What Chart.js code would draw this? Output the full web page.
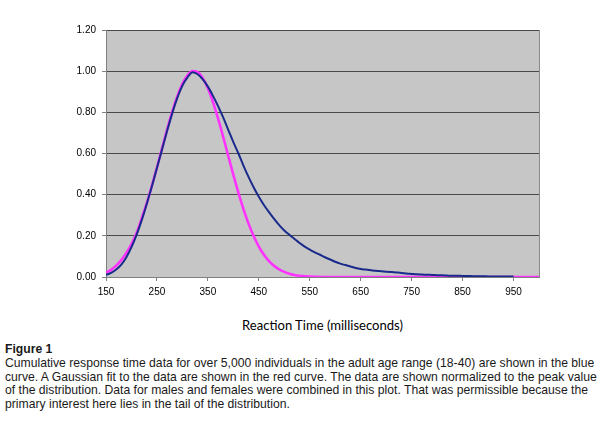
<!DOCTYPE html>
<html>
<head>
<meta charset="utf-8">
<script src="https://cdn.jsdelivr.net/npm/chart.js@4.4.1/dist/chart.umd.min.js"></script>
<style>
  html, body { margin:0; padding:0; background:#fff; }
  #wrap { position:relative; width:604px; height:425px; overflow:hidden; }
  #c { position:absolute; left:0; top:0; }
  #xtitle { position:absolute; left:106px; width:433px; top:318px; text-align:center;
            font-family:Lato, "Open Sans", sans-serif; font-size:11px; line-height:14px; color:#000; white-space:nowrap; }
  #caption { position:absolute; left:5px; top:342.7px; font-family:"Liberation Sans Narrow", "Liberation Sans", Arial, sans-serif;
             font-size:11px; line-height:13.9px; color:#1a1a1a; white-space:nowrap; }
  #caption b { font-weight:bold; }
</style>
</head>
<body>
<div id="wrap">
  <canvas id="c" width="604" height="300"></canvas>
  <div id="xtitle">Reaction Time (milliseconds)</div>
  <div id="caption"><b>Figure 1</b><br><span id="l1">Cumulative response time data for over 5,000 individuals in the adult age range (18-40) are shown in the blue</span><br>curve. A Gaussian fit to the data are shown in the red curve. The data are shown normalized to the peak value<br>of the distribution. Data for males and females were combined in this plot. That was permissible because the<br>primary interest here lies in the tail of the distribution.</div>
</div>
<script>
// ---- data ----
const dataTimes = [150,160,170,180,190,200,210,220,230,240,250,260,270,280,290,300,310,320,330,340,
  350,360,370,380,390,400,410,420,430,440,450,460,470,480,490,500,510,520,530,540,
  550,560,570,580,590,600,610,620,630,640,650,660,670,680,690,700,710,720,730,740,
  750,760,770,780,790,800,810,820,830,840,850,860,870,880,890,900,910,920,930,940,950];
const dataValues = [0.010,0.020,0.036,0.060,0.096,0.145,0.205,0.275,0.355,0.440,0.530,0.620,0.710,0.795,0.870,0.930,0.970,0.995,0.985,0.960,
  0.925,0.880,0.830,0.775,0.715,0.655,0.600,0.540,0.485,0.435,0.390,0.350,0.315,0.282,0.252,0.226,0.205,0.185,0.165,0.148,
  0.133,0.120,0.108,0.096,0.085,0.074,0.065,0.058,0.051,0.044,0.039,0.036,0.033,0.030,0.028,0.026,0.024,0.022,0.020,0.017,
  0.015,0.013,0.012,0.011,0.010,0.009,0.008,0.007,0.006,0.006,0.005,0.005,0.004,0.004,0.004,0.003,0.003,0.003,0.003,0.002,0.002];
const fitTimes = [150,160,170,180,190,200,210,220,230,240,250,260,270,280,290,300,310,320,330,340,
  350,360,370,380,390,400,410,420,430,440,450,460,470,480,490,500,510,520,530,540,550,560,600,700,800,900,1000];
const fitValues = [0.022,0.035,0.055,0.082,0.117,0.160,0.214,0.285,0.359,0.443,0.532,0.625,0.717,0.803,0.879,0.939,0.980,1.000,0.995,0.966,
  0.917,0.850,0.770,0.681,0.588,0.496,0.409,0.329,0.258,0.198,0.148,0.108,0.077,0.054,0.037,0.025,0.016,0.010,0.006,0.004,0.002,0.001,0,0,0,0,0];
const xTickValues = [150,250,350,450,550,650,750,850,950];
const yTickValues = [0,0.2,0.4,0.6,0.8,1.0,1.2];
const yTickLabels = ["0.00","0.20","0.40","0.60","0.80","1.00","1.20"];

// fit caption and axis-title widths to the reference
(function(){
  const l1 = document.getElementById('l1');
  const cap = document.getElementById('caption');
  const w = l1.getBoundingClientRect().width;
  cap.style.fontSize = (11 * 590 / w) + 'px';
  const t = document.getElementById('xtitle');
  const sp = document.createElement('span'); sp.textContent = t.textContent; t.textContent=''; t.appendChild(sp);
  const tw = sp.getBoundingClientRect().width;
  t.style.fontSize = (11 * 161 / tw) + 'px';
})();

const plotBg = {
  id:'plotBg',
  beforeDraw(chart){
    const {ctx, chartArea:a} = chart;
    ctx.save(); ctx.fillStyle = '#c6c6c6';
    ctx.fillRect(a.left, a.top, a.right-a.left, a.bottom-a.top);
    ctx.restore();
  },
  afterDatasetsDraw(chart){
    const {ctx, chartArea:a} = chart;
    ctx.save(); ctx.strokeStyle = '#8a8a8a'; ctx.lineWidth = 1;
    ctx.beginPath(); ctx.moveTo(Math.round(a.right)+0.5, a.top); ctx.lineTo(Math.round(a.right)+0.5, a.bottom); ctx.stroke();
    ctx.restore();
  }
};

new Chart(document.getElementById('c'), {
  type:'scatter',
  data:{
    datasets:[
      { label:'Fit', data: fitTimes.map((x,i)=>({x, y:fitValues[i]})), showLine:true,
        borderColor:'#ff33ff', borderWidth:2.6, pointRadius:0, tension:0.4, cubicInterpolationMode:'monotone', order:2 },
      { label:'Data', data: dataTimes.map((x,i)=>({x, y:dataValues[i]})), showLine:true,
        borderColor:'#1a2a8c', borderWidth:2, pointRadius:0, tension:0.3, cubicInterpolationMode:'monotone', order:1 }
    ]
  },
  options:{
    responsive:false, animation:false,
    layout:{ padding:{ left:0, right:65, top:30, bottom:0 } },
    plugins:{ legend:{display:false}, tooltip:{enabled:false} },
    scales:{
      x:{ type:'linear', min:150, max:1000,
        afterBuildTicks(s){ s.ticks = xTickValues.map(v=>({value:v})); },
        afterFit(s){ s.height = 23; },
        grid:{ drawOnChartArea:false, drawTicks:true, tickLength:4, color:'#808080' },
        border:{ color:'#808080', width:1 },
        ticks:{ padding:5, color:'#000', font:{family:'"Liberation Sans", Arial', size:10}, maxRotation:0,
          callback:(v)=>String(v) }
      },
      y:{ type:'linear', min:0, max:1.2,
        afterBuildTicks(s){ s.ticks = yTickValues.map(v=>({value:v})); },
        afterFit(s){ s.width = 106; },
        grid:{ color:'#4a4a4a', lineWidth:1, drawTicks:true, tickLength:4, tickColor:'#808080' },
        border:{ color:'#808080', width:1 },
        ticks:{ padding:6, color:'#000', font:{family:'"Liberation Sans", Arial', size:10},
          callback:(v)=>yTickLabels[yTickValues.findIndex(t=>Math.abs(t-v)<1e-6)] }
      }
    }
  },
  plugins:[plotBg]
});
</script>
</body>
</html>
